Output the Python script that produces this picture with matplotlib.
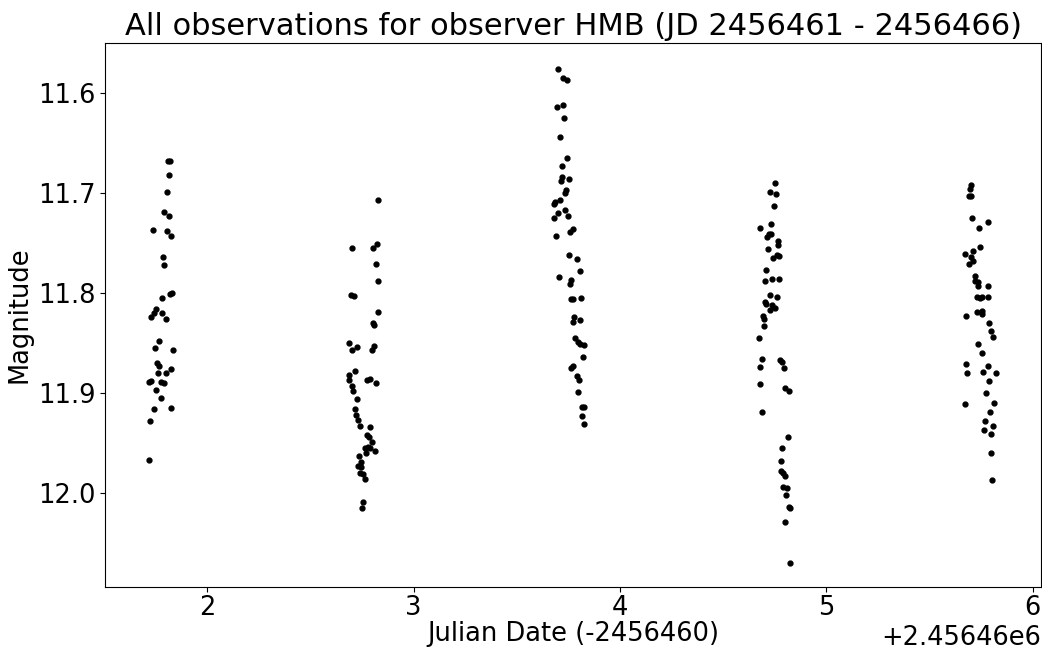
import numpy as np
import matplotlib
matplotlib.use("Agg")
import matplotlib.pyplot as plt

jd_zero = 2456460

# Julian date minus 2456460, one list per night
night1_t = [1.810, 1.819, 1.817, 1.805, 1.793, 1.815, 1.737, 1.803, 1.827, 1.787,
            1.792, 1.831, 1.821, 1.782, 1.752, 1.740, 1.730, 1.781, 1.801, 1.768,
            1.747, 1.835, 1.756, 1.768, 1.763, 1.798, 1.826, 1.718, 1.727, 1.776,
            1.790, 1.753, 1.776, 1.743, 1.824, 1.721, 1.718]
night1_mag = [11.668, 11.668, 11.682, 11.699, 11.719, 11.723, 11.737, 11.738, 11.743, 11.764,
              11.772, 11.800, 11.801, 11.805, 11.816, 11.820, 11.824, 11.820, 11.826, 11.848,
              11.855, 11.857, 11.870, 11.873, 11.880, 11.880, 11.876, 11.889, 11.888, 11.889,
              11.890, 11.897, 11.905, 11.916, 11.915, 11.928, 11.967]

night2_t = [2.830, 2.701, 2.801, 2.822, 2.818, 2.828, 2.696, 2.712, 2.827, 2.805,
            2.809, 2.688, 2.704, 2.725, 2.798, 2.810, 2.715, 2.686, 2.689, 2.701,
            2.708, 2.773, 2.791, 2.817, 2.726, 2.717, 2.722, 2.731, 2.741, 2.788,
            2.773, 2.785, 2.798, 2.765, 2.778, 2.789, 2.814, 2.770, 2.736, 2.744,
            2.733, 2.746, 2.741, 2.754, 2.764, 2.755, 2.752]
night2_mag = [11.707, 11.755, 11.755, 11.751, 11.771, 11.788, 11.802, 11.803, 11.819, 11.830,
              11.832, 11.850, 11.857, 11.854, 11.857, 11.853, 11.878, 11.882, 11.887, 11.893,
              11.898, 11.887, 11.886, 11.890, 11.906, 11.916, 11.922, 11.927, 11.933, 11.934,
              11.942, 11.944, 11.949, 11.955, 11.954, 11.955, 11.958, 11.960, 11.963, 11.969,
              11.973, 11.974, 11.980, 11.981, 11.986, 12.009, 12.015]

night3_t = [3.698, 3.726, 3.742, 3.695, 3.724, 3.729, 3.711, 3.745, 3.718, 3.719,
            3.714, 3.751, 3.737, 3.735, 3.709, 3.687, 3.682, 3.734, 3.700, 3.680,
            3.748, 3.771, 3.756, 3.690, 3.753, 3.790, 3.806, 3.705, 3.761, 3.758,
            3.761, 3.774, 3.811, 3.779, 3.772, 3.806, 3.784, 3.795, 3.806, 3.824,
            3.819, 3.771, 3.763, 3.793, 3.803, 3.797, 3.817, 3.827, 3.816, 3.827]
night3_mag = [11.576, 11.585, 11.587, 11.614, 11.612, 11.625, 11.644, 11.665, 11.673, 11.684,
              11.688, 11.686, 11.697, 11.700, 11.707, 11.709, 11.711, 11.717, 11.720, 11.725,
              11.723, 11.736, 11.739, 11.743, 11.762, 11.766, 11.778, 11.784, 11.787, 11.791,
              11.806, 11.806, 11.805, 11.824, 11.829, 11.827, 11.845, 11.849, 11.851, 11.852,
              11.864, 11.873, 11.875, 11.883, 11.887, 11.899, 11.914, 11.914, 11.923, 11.931]

night4_t = [4.749, 4.728, 4.754, 4.747, 4.733, 4.679, 4.723, 4.734, 4.713, 4.768,
            4.764, 4.719, 4.760, 4.771, 4.744, 4.710, 4.702, 4.737, 4.771, 4.725,
            4.760, 4.704, 4.707, 4.739, 4.752, 4.727, 4.691, 4.699, 4.696, 4.673,
            4.686, 4.681, 4.774, 4.783, 4.794, 4.677, 4.799, 4.817, 4.688, 4.812,
            4.786, 4.778, 4.781, 4.788, 4.802, 4.789, 4.809, 4.806, 4.818, 4.823,
            4.800, 4.822]
night4_mag = [11.690, 11.699, 11.701, 11.713, 11.731, 11.735, 11.741, 11.741, 11.744, 11.748,
              11.752, 11.756, 11.762, 11.763, 11.765, 11.777, 11.788, 11.786, 11.786, 11.802,
              11.804, 11.809, 11.811, 11.812, 11.815, 11.817, 11.823, 11.826, 11.833, 11.845,
              11.866, 11.874, 11.867, 11.869, 11.875, 11.891, 11.895, 11.898, 11.919, 11.944,
              11.955, 11.968, 11.978, 11.980, 11.983, 11.994, 11.995, 12.002, 12.014, 12.015,
              12.029, 12.070]

night5_t = [5.701, 5.695, 5.690, 5.701, 5.706, 5.785, 5.740, 5.746, 5.674, 5.713,
            5.701, 5.709, 5.690, 5.718, 5.718, 5.736, 5.734, 5.781, 5.729, 5.743,
            5.754, 5.782, 5.729, 5.752, 5.752, 5.677, 5.787, 5.798, 5.808, 5.737,
            5.756, 5.679, 5.784, 5.684, 5.761, 5.822, 5.790, 5.772, 5.814, 5.672,
            5.795, 5.768, 5.810, 5.763, 5.797, 5.799, 5.805]
night5_mag = [11.692, 11.696, 11.703, 11.703, 11.725, 11.729, 11.735, 11.754, 11.761, 11.758,
              11.764, 11.768, 11.771, 11.783, 11.788, 11.789, 11.793, 11.793, 11.804, 11.805,
              11.804, 11.804, 11.819, 11.818, 11.821, 11.823, 11.830, 11.838, 11.844, 11.851,
              11.860, 11.871, 11.873, 11.880, 11.879, 11.880, 11.888, 11.900, 11.910, 11.911,
              11.919, 11.928, 11.933, 11.937, 11.941, 11.960, 11.987]

y_ticks = [11.6, 11.7, 11.8, 11.9, 12.0]

t = np.array(night1_t + night2_t + night3_t + night4_t + night5_t) + jd_zero
mag = np.array(night1_mag + night2_mag + night3_mag + night4_mag + night5_mag)

fig = plt.figure(figsize=(10.42, 6.5), dpi=100)
ax = fig.add_subplot(111)
fig.subplots_adjust(left=0.101, right=0.999, bottom=0.097, top=0.934)

ax.plot(t, mag, 'k.', markersize=7)

ax.set_xlim(jd_zero + 1.506, jd_zero + 6.04)
ax.set_ylim(12.094, 11.55)
ax.set_yticks(y_ticks)

ax.set_title('All observations for observer HMB (JD 2456461 - 2456466)', fontsize=22)
ax.set_xlabel('Julian Date (-2456460)', fontsize=18.5, labelpad=0)
ax.set_ylabel('Magnitude', fontsize=18.5)
ax.tick_params(labelsize=18.5)
ax.tick_params(axis='x', pad=2)
ax.xaxis.get_offset_text().set_fontsize(18.5)

fig.savefig('out.png', dpi=100)
